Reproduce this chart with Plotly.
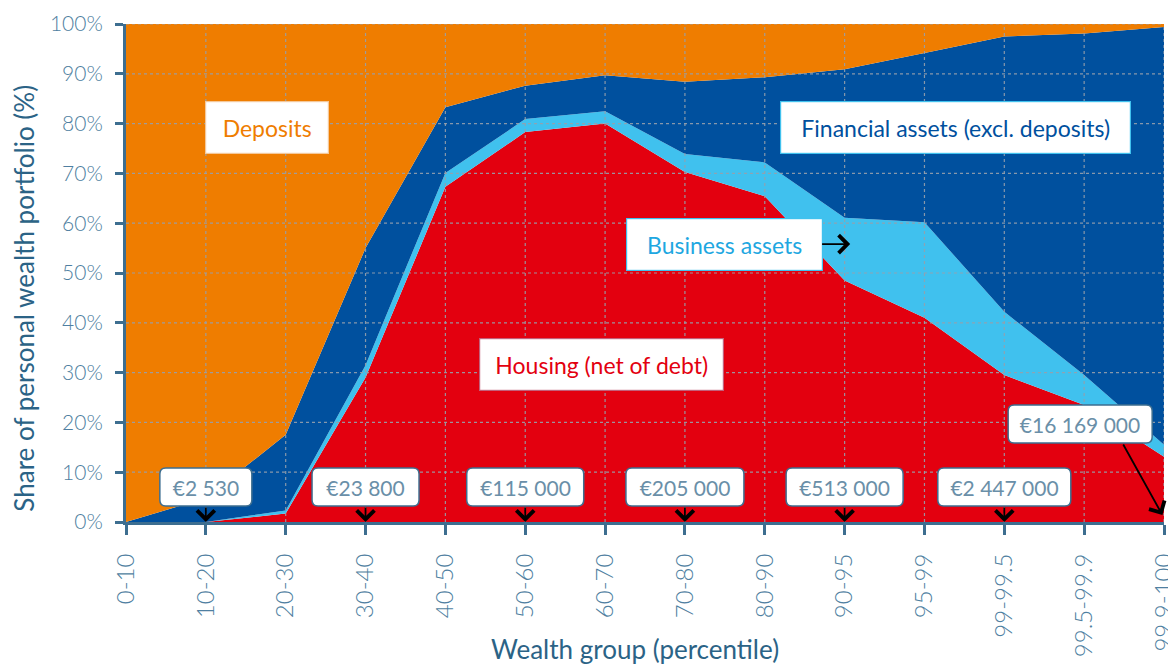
import plotly.graph_objects as go

categories = ["0-10", "10-20", "20-30", "30-40", "40-50", "50-60", "60-70",
              "70-80", "80-90", "90-95", "95-99", "99-99.5", "99.5-99.9", "99.9-100"]

housing = [0, 0, 1.7, 29.0, 67.3, 78.3, 80.0, 70.3, 65.4, 48.5, 41.0, 29.5, 23.5, 13.1]
business = [0, 0, 0.6, 2.5, 2.8, 2.6, 2.5, 3.6, 6.8, 12.6, 19.2, 12.7, 6.0, 2.4]
financial = [0, 4.8, 15.2, 23.5, 13.2, 6.7, 7.2, 14.5, 17.1, 29.8, 34.0, 55.3, 68.6, 83.9]
deposits = [100, 95.2, 82.5, 45.0, 16.7, 12.4, 10.3, 11.6, 10.7, 9.1, 5.8, 2.5, 1.9, 0.6]

value_labels = ["€2 530", "€23 800", "€115 000", "€205 000", "€513 000", "€2 447 000"]
value_label_cats = ["10-20", "30-40", "50-60", "70-80", "90-95", "99-99.5"]
value_label_widths = [92, 107, 117, 118, 117, 133]
top_label = "€16 169 000"

ORANGE = "#EF7D00"
DBLUE = "#00509E"
LBLUE = "#40C1EE"
RED = "#E3000F"
AXIS = "#3D6E90"
TICKC = "#4F7FA1"
TITLEC = "#2B6386"
VALC = "#6A8FA8"
FONT = "Lato, 'Open Sans', sans-serif"

# plot area geometry (figure pixels)
PW, PH = 1038, 498
NCAT = len(categories)

fig = go.Figure()
for name, vals, col in [("Housing (net of debt)", housing, RED),
                        ("Business assets", business, LBLUE),
                        ("Financial assets (excl. deposits)", financial, DBLUE),
                        ("Deposits", deposits, ORANGE)]:
    fig.add_trace(go.Scatter(x=categories, y=vals, name=name, mode="lines",
                             stackgroup="one", line=dict(width=0, color=col),
                             fillcolor=col, hoverinfo="skip"))

# dotted grid drawn above the areas
GRID = dict(color="rgba(150,160,172,0.9)", width=1.2, dash="dot")
for i in range(1, NCAT):
    fig.add_shape(type="line", xref="x", yref="paper", x0=i, x1=i, y0=0, y1=1,
                  line=GRID, layer="above")
for v in range(10, 101, 10):
    fig.add_shape(type="line", xref="paper", yref="y", x0=0, x1=1, y0=v, y1=v,
                  line=GRID, layer="above")


def rounded_box(cx, cy, w, h, r=6):
    """cx in category index, cy in pixels above the x axis; size in pixels"""
    px = cx / (NCAT - 1)
    py = cy / PH
    hw, hh = w / 2 / PW, h / 2 / PH
    rx, ry = r / PW, r / PH
    x0, x1, y0, y1 = px - hw, px + hw, py - hh, py + hh
    path = (f"M{x0 + rx},{y0} L{x1 - rx},{y0} Q{x1},{y0} {x1},{y0 + ry} "
            f"L{x1},{y1 - ry} Q{x1},{y1} {x1 - rx},{y1} L{x0 + rx},{y1} "
            f"Q{x0},{y1} {x0},{y1 - ry} L{x0},{y0 + ry} Q{x0},{y0} {x0 + rx},{y0} Z")
    fig.add_shape(type="path", xref="paper", yref="paper", path=path,
                  fillcolor="white", line=dict(color=AXIS, width=1.5),
                  layer="above")


# series labels
def box(text, x, y, color, border, w, h=49):
    fig.add_annotation(xref="x", yref="y", x=x, y=y, text=text, showarrow=False,
                       font=dict(family=FONT, size=23, color=color),
                       bgcolor="white", bordercolor=border, borderwidth=1.2,
                       width=w, height=h, xanchor="center", yanchor="middle")

box("Deposits", 1.76, 79.3, ORANGE, "#f4c89a", 120)
box("Financial assets (excl. deposits)", 10.39, 79.3, DBLUE, LBLUE, 347)
box("Housing (net of debt)", 5.95, 31.6, RED, "#c2607a", 241)

# business assets with arrow
fig.add_annotation(xref="x", yref="y", x=9.07, y=55.8, ax=-126, ay=0,
                   text="Business assets", showarrow=True, arrowhead=4,
                   arrowsize=1.9, arrowwidth=1.8, arrowcolor="black", standoff=0,
                   font=dict(family=FONT, size=23, color="#1EA7E1"),
                   bgcolor="white", bordercolor=LBLUE, borderwidth=1.2,
                   width=193, height=49)

# wealth threshold labels
for txt, cat, w in zip(value_labels, value_label_cats, value_label_widths):
    idx = categories.index(cat)
    rounded_box(idx, 35, w, 38)
    fig.add_annotation(xref="x", yref="y", x=cat, y=0, ax=0, ay=-35,
                       text=txt, showarrow=True, arrowhead=4, arrowsize=1.9,
                       arrowwidth=1.8, arrowcolor="black", standoff=0,
                       font=dict(family=FONT, size=21, color=VALC),
                       width=w, height=38)

rounded_box(11.95, 98, 144, 38)
fig.add_annotation(xref="x", yref="y", x=12.98, y=1.4, ax=-40, ay=-72,
                   text="", showarrow=True, arrowhead=4, arrowsize=1.9,
                   arrowwidth=1.8, arrowcolor="black", standoff=0)
fig.add_annotation(xref="x", yref="y", x=11.95, y=98 / PH * 100, text=top_label,
                   showarrow=False, font=dict(family=FONT, size=21, color=VALC),
                   width=144, height=38)

# axis titles
fig.add_annotation(xref="paper", yref="paper", x=0.49, y=-0.256,
                   text="Wealth group (percentile)", showarrow=False,
                   font=dict(family=FONT, size=26, color=TITLEC),
                   xanchor="center", yanchor="middle")
fig.add_annotation(xref="paper", yref="paper", x=-0.0985, y=0.45,
                   text="Share of personal wealth portfolio (%)", showarrow=False,
                   textangle=-90,
                   font=dict(family=FONT, size=26, color=TITLEC),
                   xanchor="center", yanchor="middle")

# the page body adds an 8px margin, so the figure is sized/offset for it
fig.update_layout(
    width=1168, height=658,
    margin=dict(l=118, r=12, t=16, b=144),
    paper_bgcolor="white", plot_bgcolor="white",
    showlegend=False,
    font=dict(family=FONT),
    xaxis=dict(type="category", range=[0, NCAT - 1],
               automargin=False,
               showgrid=False, zeroline=False,
               showline=True, linecolor=AXIS, linewidth=3,
               ticks="outside", ticklen=10, tickwidth=3, tickcolor=AXIS,
               tickangle=-90, ticklabelstandoff=9,
               tickfont=dict(family=FONT, size=24, color=TICKC, weight=300),
               layer="above traces"),
    yaxis=dict(range=[0, 100], dtick=10, ticksuffix="%",
               automargin=False,
               showgrid=False, zeroline=False,
               showline=True, linecolor=AXIS, linewidth=3,
               ticks="outside", ticklen=8, tickwidth=3, tickcolor=AXIS,
               ticklabelstandoff=8,
               tickfont=dict(family=FONT, size=21, color=TICKC, weight=300),
               layer="above traces"),
)

fig.write_html("out.html")
